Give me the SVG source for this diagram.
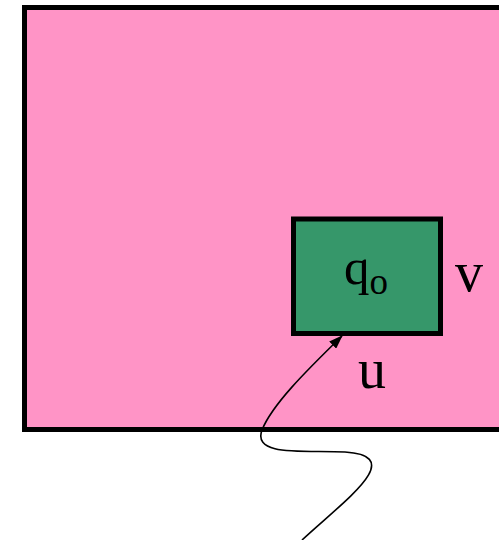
<svg xmlns="http://www.w3.org/2000/svg" width="499" height="540" viewBox="0 0 499 540">
<defs>
<style>
.lbl{font-family:"Liberation Serif","Times New Roman",serif;fill:#000}
.box{stroke:#000;stroke-width:5}
</style>
<marker id="ah" viewBox="0 0 14 10" refX="13" refY="5" markerWidth="14" markerHeight="10" markerUnits="userSpaceOnUse" orient="auto">
<path d="M0,0 L14,5 L0,10 z" fill="#000"/>
</marker>
</defs>
<g id="outer">
<rect class="box" x="24.5" y="7.5" width="490" height="422" fill="#FF94C6"/>
<text class="lbl" x="455" y="291" font-size="56">v</text>
<text class="lbl" x="358" y="388" font-size="56">u</text>
</g>
<g id="q0">
<rect class="box" x="293.5" y="219" width="147" height="114.5" fill="#36976A"/>
<text class="lbl" x="344" y="284" font-size="51">q<tspan font-size="37" dy="10">o</tspan></text>
</g>
<g id="connectors">
<path d="M302,540 C345,500 408,456 345,452 C305,450 252,457 262,430 C272,405 305,372 342,336" fill="none" stroke="#000" stroke-width="1.6" marker-end="url(#ah)"/>
</g>
</svg>
